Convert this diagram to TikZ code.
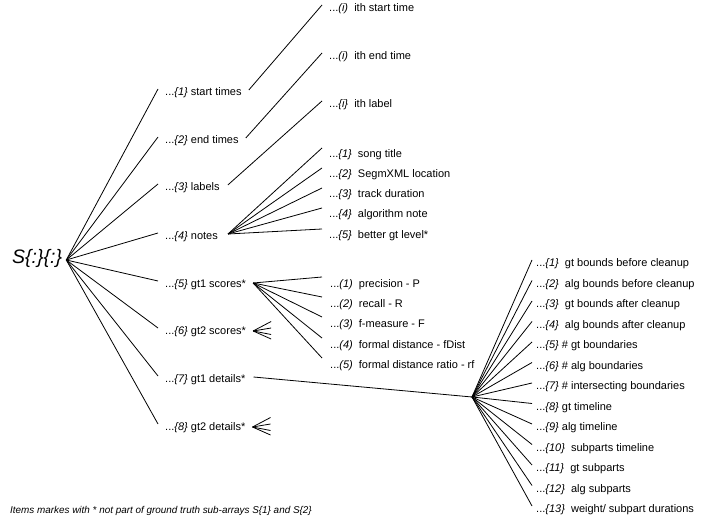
\documentclass[tikz,border=0pt]{standalone}
\usepackage{fontspec}
\setmainfont{Liberation Sans}
\newcommand{\gp}{\ \ }
\begin{document}
\begin{tikzpicture}[x=1pt,y=-1pt,
  lbl/.style={anchor=west,inner sep=0pt,yshift=-2pt,font=\fontsize{11}{12}\selectfont},
  link/.style={line width=0.8pt}]
\useasboundingbox (0,0) rectangle (707,518);
% root
\node[anchor=west,inner sep=0pt,font=\fontsize{19.5}{22}\selectfont\itshape] (root) at (12,258) {S\{:\}\{:\}};
\coordinate (r) at ([xshift=4pt,yshift=-2pt]root.east);
% level 1
\node[lbl] (a1) at (165,91) {...\textit{\{1\}} start times};
\node[lbl] (a2) at (165,139) {...\textit{\{2\}} end times};
\node[lbl] (a3) at (165,186) {...\textit{\{3\}} labels};
\node[lbl] (a4) at (165,235) {...\textit{\{4\}} notes};
\node[lbl] (a5) at (165,283) {...\textit{\{5\}} gt1 scores*};
\node[lbl] (a6) at (165,330) {...\textit{\{6\}} gt2 scores*};
\node[lbl] (a7) at (165,378) {...\textit{\{7\}} gt1 details*};
\node[lbl] (a8) at (165,426) {...\textit{\{8\}} gt2 details*};
\foreach \i in {1,...,8}{
  \draw[link] (r) -- ([xshift=-7pt,yshift=4pt]a\i.west);
}
% ith children
\node[lbl] (b1) at (329,7) {...\textit{(i)}\gp ith start time};
\node[lbl] (b2) at (329,55) {...\textit{(i)}\gp ith end time};
\node[lbl] (b3) at (329,103) {...\textit{\{i\}}\gp ith label};
\draw[link] ([xshift=7pt,yshift=3pt]a1.east) -- ([xshift=-7pt,yshift=4pt]b1.west);
\draw[link] ([xshift=7pt,yshift=3pt]a2.east) -- ([xshift=-7pt,yshift=4pt]b2.west);
\draw[link] ([xshift=8pt,yshift=3pt]a3.east) -- ([xshift=-7pt,yshift=4pt]b3.west);
% notes children
\node[lbl] (c1) at (329,153) {...\textit{\{1\}}\gp song title};
\node[lbl] (c2) at (329,173) {...\textit{\{2\}}\gp SegmXML location};
\node[lbl] (c3) at (329,193) {...\textit{\{3\}}\gp track duration};
\node[lbl] (c4) at (329,213) {...\textit{\{4\}}\gp algorithm note};
\node[lbl] (c5) at (329,234) {...\textit{\{5\}}\gp better gt level*};
\coordinate (n4) at ([xshift=10pt,yshift=3pt]a4.east);
\foreach \i in {1,...,5}{
  \draw[link] (n4) -- ([xshift=-7pt,yshift=7pt]c\i.west);
}
% gt1 scores children
\node[lbl] (d1) at (330,283) {...\textit{(1)}\gp precision - P};
\node[lbl] (d2) at (330,303) {...\textit{(2)}\gp recall - R};
\node[lbl] (d3) at (330,323) {...\textit{(3)}\gp f-measure - F};
\node[lbl] (d4) at (330,344) {...\textit{(4)}\gp formal distance - fDist};
\node[lbl] (d5) at (330,364) {...\textit{(5)}\gp formal distance ratio - rf};
\coordinate (n5) at ([xshift=7pt,yshift=2pt]a5.east);
\foreach \i in {1,...,5}{
  \draw[link] (n5) -- ([xshift=-8pt,yshift=8pt]d\i.west);
}
% gt2 scores fan
\coordinate (n6) at ([xshift=7pt,yshift=1pt]a6.east);
\coordinate (f61) at ([xshift=18pt,yshift=9.5pt]n6);
\coordinate (f62) at ([xshift=18pt,yshift=3pt]n6);
\coordinate (f63) at ([xshift=18pt,yshift=-3.5pt]n6);
\coordinate (f64) at ([xshift=18pt,yshift=-8pt]n6);
\foreach \i in {1,...,4}{ \draw[link] (n6) -- (f6\i); }
% gt2 details fan
\coordinate (n8) at ([xshift=7pt,yshift=1pt]a8.east);
\coordinate (f81) at ([xshift=18pt,yshift=9.5pt]n8);
\coordinate (f82) at ([xshift=18pt,yshift=3pt]n8);
\coordinate (f83) at ([xshift=18pt,yshift=-3.5pt]n8);
\coordinate (f84) at ([xshift=18pt,yshift=-8pt]n8);
\foreach \i in {1,...,4}{ \draw[link] (n8) -- (f8\i); }
% gt1 details children
\node[lbl] (e1) at (536,262) {...\textit{\{1\}}\gp gt bounds before cleanup};
\node[lbl] (e2) at (536,282.5) {...\textit{\{2\}}\gp alg bounds before cleanup};
\node[lbl] (e3) at (536,303) {...\textit{\{3\}}\gp gt bounds after cleanup};
\node[lbl] (e4) at (536,323.5) {...\textit{\{4\}}\gp alg bounds after cleanup};
\node[lbl] (e5) at (536,344) {...\textit{\{5\}} \# gt boundaries};
\node[lbl] (e6) at (536,364.5) {...\textit{\{6\}} \# alg boundaries};
\node[lbl] (e7) at (536,385) {...\textit{\{7\}} \# intersecting boundaries};
\node[lbl] (e8) at (536,405.5) {...\textit{\{8\}} gt timeline};
\node[lbl] (e9) at (536,426) {...\textit{\{9\}} alg timeline};
\node[lbl] (e10) at (536,446.5) {...\textit{\{10\}}\gp subparts timeline};
\node[lbl] (e11) at (536,467) {...\textit{\{11\}}\gp gt subparts};
\node[lbl] (e12) at (536,487.5) {...\textit{\{12\}}\gp alg subparts};
\node[lbl] (e13) at (536,508) {...\textit{\{13\}}\gp weight/ subpart durations};
\coordinate (g) at (472,397);
\draw[link] ([xshift=8pt,yshift=3pt]a7.east) -- (g);
\foreach \i in {1,...,13}{
  \draw[link] (g) -- ([xshift=-4pt,yshift=4pt]e\i.west);
}
% footer
\node[anchor=west,inner sep=0pt,font=\fontsize{9.9}{11}\selectfont\itshape] (foot) at (10,511)
  {Items markes with * not part of ground truth sub-arrays S\{1\} and S\{2\}};
\end{tikzpicture}
\end{document}
